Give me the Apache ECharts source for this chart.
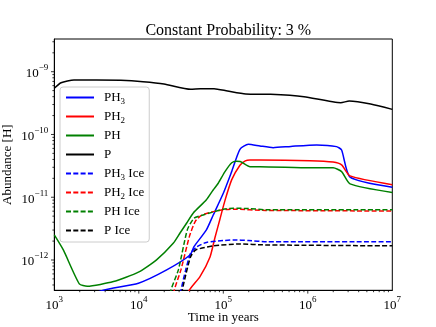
<!DOCTYPE html>
<html><head><meta charset="utf-8">
<script src="https://cdn.jsdelivr.net/npm/echarts@6/dist/echarts.min.js"></script>
<style>html,body{margin:0;padding:0;background:#fff}#c{width:436px;height:327px}</style>
</head><body><div id="c"></div>
<script>
const FONT = 'Liberation Serif';
const titleText = 'Constant Probability: 3 %';
const xName = 'Time in years';
const yName = 'Abundance [H]';
const seriesNames = ['PH3', 'PH2', 'PH', 'P', 'PH3 Ice', 'PH2 Ice', 'PH Ice', 'P Ice'];
const legendLabels = ['PH{sub|3}', 'PH{sub|2}', 'PH', 'P', 'PH{sub|3} Ice', 'PH{sub|2} Ice', 'PH Ice', 'P Ice'];
const xTickValues = [1e3, 1e4, 1e5, 1e6, 1e7];
const yTickValues = [1e-12, 1e-11, 1e-10, 1e-9];

const PH3_t = [1000, 3802, 9900, 21380, 40360, 44980, 63100, 76210, 100000, 125600, 157400, 197700, 271600, 389000, 631000, 1274000, 2188000, 2512000, 3162000, 1e7];
const PH3_v = [1.78e-13, 3.3e-13, 4.27e-13, 6.95e-13, 1.2e-12, 1.63e-12, 3.02e-12, 5.25e-12, 1.156e-11, 2.56e-11, 5.81e-11, 6.98e-11, 6.56e-11, 6.17e-11, 6.46e-11, 6.81e-11, 6.4e-11, 5.66e-11, 2.09e-11, 1.445e-11];

const PH2_t = [31620, 39630, 52970, 69660, 79430, 91200, 104700, 125900, 157400, 182000, 207000, 271600, 1062000, 1995000, 2512000, 3162000, 1e7];
const PH2_v = [1.58e-13, 3.3e-13, 5.44e-13, 1.12e-12, 2.24e-12, 4.47e-12, 8.91e-12, 1.905e-11, 3.24e-11, 3.8e-11, 3.93e-11, 3.93e-11, 3.83e-11, 3.63e-11, 3.27e-11, 2.19e-11, 1.585e-11];

const PH_t = [1000, 1279, 1977, 2455, 5012, 9900, 16218, 25700, 30760, 36900, 44160, 63100, 75860, 87100, 104700, 125900, 143900, 158500, 207000, 271600, 1062000, 1995000, 2512000, 3162000, 1e7];
const PH_v = [2.51e-12, 1.445e-12, 4.17e-13, 3.83e-13, 4.53e-13, 6.4e-13, 1.005e-12, 1.86e-12, 2.69e-12, 3.89e-12, 5.62e-12, 9.12e-12, 1.306e-11, 1.671e-11, 2.56e-11, 3.55e-11, 3.74e-11, 3.72e-11, 3.07e-11, 3.07e-11, 2.95e-11, 2.95e-11, 2.56e-11, 1.63e-11, 1.186e-11];

const P_t = [1000, 1202, 1710, 3162, 6109, 11220, 19860, 41110, 53700, 77620, 112200, 184100, 363100, 901600, 2455000, 3090000, 5546000, 1e7];
const P_v = [5.45e-10, 6.68e-10, 7.38e-10, 7.41e-10, 7.29e-10, 6.92e-10, 6.37e-10, 5.25e-10, 5.37e-10, 5.37e-10, 4.93e-10, 4.42e-10, 4.37e-10, 4.0e-10, 3.21e-10, 3.41e-10, 3.06e-10, 2.51e-10];

const PH3Ice_t = [28180, 31620, 35890, 41110, 48980, 63100, 100000, 131200, 199500, 326600, 1e7];
const PH3Ice_v = [1e-13, 3.3e-13, 6.95e-13, 1.29e-12, 1.63e-12, 1.905e-12, 2.04e-12, 2.09e-12, 2.04e-12, 1.96e-12, 1.96e-12];

const PH2Ice_t = [22390, 26300, 31620, 39810, 46770, 54950, 70790, 100000, 131200, 316200, 1e7];
const PH2Ice_v = [1e-13, 3.3e-13, 7.08e-13, 2.4e-12, 4.17e-12, 5.13e-12, 5.75e-12, 6.31e-12, 6.46e-12, 6.17e-12, 6.03e-12];

const PHIce_t = [19950, 23990, 29380, 37500, 44980, 58880, 100000, 131200, 199500, 316200, 1e7];
const PHIce_v = [1e-13, 3.3e-13, 6.95e-13, 3.02e-12, 4.62e-12, 5.25e-12, 6.46e-12, 6.68e-12, 6.61e-12, 6.31e-12, 6.31e-12];

const PIce_t = [28840, 32730, 35890, 41110, 47100, 75860, 157400, 316200, 1e7];
const PIce_v = [1e-13, 3.3e-13, 5.75e-13, 1.13e-12, 1.445e-12, 1.68e-12, 1.8e-12, 1.74e-12, 1.68e-12];

const X_MIN = 1e3, X_MAX = 1e7;
const Y_MIN = 3.29e-13, Y_MAX = 3.32e-9;

const pairs = (t, v) => t.map((x, i) => [x, v[i]]);
const seriesData = [pairs(PH3_t, PH3_v), pairs(PH2_t, PH2_v), pairs(PH_t, PH_v), pairs(P_t, P_v),
  pairs(PH3Ice_t, PH3Ice_v), pairs(PH2Ice_t, PH2Ice_v), pairs(PHIce_t, PHIce_v), pairs(PIce_t, PIce_v)];
const colors = ['#0000ff', '#ff0000', '#008000', '#000000', '#0000ff', '#ff0000', '#008000', '#000000'];
const dashed = [false, false, false, false, true, true, true, true];

// tick marks (major + log minor) built from axis decades
const tickData = [];
for (let e = 3; e <= 6; e++) for (let k = 1; k <= 9; k++) {
  const v = k * Math.pow(10, e);
  if (v > X_MIN && v < X_MAX) tickData.push([v, Y_MIN, 0, k === 1 ? 3.3 : 1.9]);
}
for (let e = -13; e <= -9; e++) for (let k = 1; k <= 9; k++) {
  const v = k * Math.pow(10, e);
  if (v > Y_MIN && v < Y_MAX) tickData.push([X_MIN, v, 1, k === 1 ? 3.3 : 1.9]);
}

const supFmt = (v) => {
  const l = Math.log10(v);
  const e = Math.round(l);
  if (Math.abs(l - e) > 0.01) return '';
  return '{b|10}{s|' + String(e).replace('-', '\u2212') + '}';
};
const richLabel = {
  b: { fontFamily: FONT, fontSize: 13, lineHeight: 17, verticalAlign: 'bottom', color: '#000' },
  s: { fontFamily: FONT, fontSize: 9, lineHeight: 9, verticalAlign: 'top', color: '#000' }
};

const series = seriesNames.map((n, i) => ({
  name: n, type: 'line', data: seriesData[i], symbol: 'none', smooth: 0.2, clip: true,
  lineStyle: { color: colors[i], width: 1.5, type: dashed[i] ? [5, 2.3] : 'solid' },
  itemStyle: { color: colors[i] }, z: 2 + i * 0.01
}));
series.push({
  type: 'custom', data: tickData, clip: false, silent: true, encode: { x: 0, y: 1 },
  renderItem: (params, api) => {
    const p = api.coord([api.value(0), api.value(1)]);
    const len = api.value(3);
    const shape = api.value(2) === 0
      ? { x1: p[0], y1: p[1], x2: p[0], y2: p[1] + len }
      : { x1: p[0], y1: p[1], x2: p[0] - len, y2: p[1] };
    return { type: 'line', shape, style: { stroke: '#000', lineWidth: 0.8 } };
  }
});

const chart = echarts.init(document.getElementById('c'), null, { renderer: 'canvas' });
chart.setOption({
  animation: false,
  backgroundColor: '#fff',
  title: {
    text: titleText, left: 223.3, top: 18, textAlign: 'center',
    textStyle: { fontFamily: FONT, fontSize: 16, fontWeight: 'normal', color: '#000' }
  },
  grid: { left: 54.3, right: 43.7, top: 39, bottom: 36.7, show: true, borderColor: '#000', borderWidth: 1, backgroundColor: 'transparent', outerBoundsMode: 'none' },
  legend: {
    orient: 'vertical', left: 60, top: 87, itemWidth: 28, itemHeight: 14, itemGap: 2,
    padding: [2, 5, 3, 5], backgroundColor: 'rgba(255,255,255,0.8)', borderColor: '#cccccc', borderWidth: 1, borderRadius: 3,
    itemStyle: { opacity: 0 },
    data: seriesNames,
    formatter: (name) => legendLabels[seriesNames.indexOf(name)],
    textStyle: {
      fontFamily: FONT, fontSize: 13, color: '#000', lineHeight: 17, padding: [0, 0, 0, 5],
      rich: { sub: { fontFamily: FONT, fontSize: 9, lineHeight: 9, padding: [8, 0, 0, 0], verticalAlign: 'top', color: '#000' } }
    }
  },
  xAxis: {
    type: 'log', logBase: 10, min: X_MIN, max: X_MAX,
    name: xName, nameLocation: 'middle', nameGap: 21, nameMoveOverlap: false,
    nameTextStyle: { fontFamily: FONT, fontSize: 13, color: '#000' },
    axisLine: { lineStyle: { color: '#000', width: 1 } },
    axisTick: { show: false }, splitLine: { show: false }, minorTick: { show: false },
    axisLabel: { margin: 5, formatter: supFmt, rich: richLabel, color: '#000' }
  },
  yAxis: {
    type: 'log', logBase: 10, min: Y_MIN, max: Y_MAX,
    name: yName, nameLocation: 'middle', nameGap: 40, nameRotate: 90, nameMoveOverlap: false,
    nameTextStyle: { fontFamily: FONT, fontSize: 13, color: '#000' },
    axisLine: { lineStyle: { color: '#000', width: 1 } },
    axisTick: { show: false }, splitLine: { show: false }, minorTick: { show: false },
    axisLabel: { margin: 6, formatter: supFmt, rich: richLabel, color: '#000', showMinLabel: false, showMaxLabel: false }
  },
  series
});
</script></body></html>
